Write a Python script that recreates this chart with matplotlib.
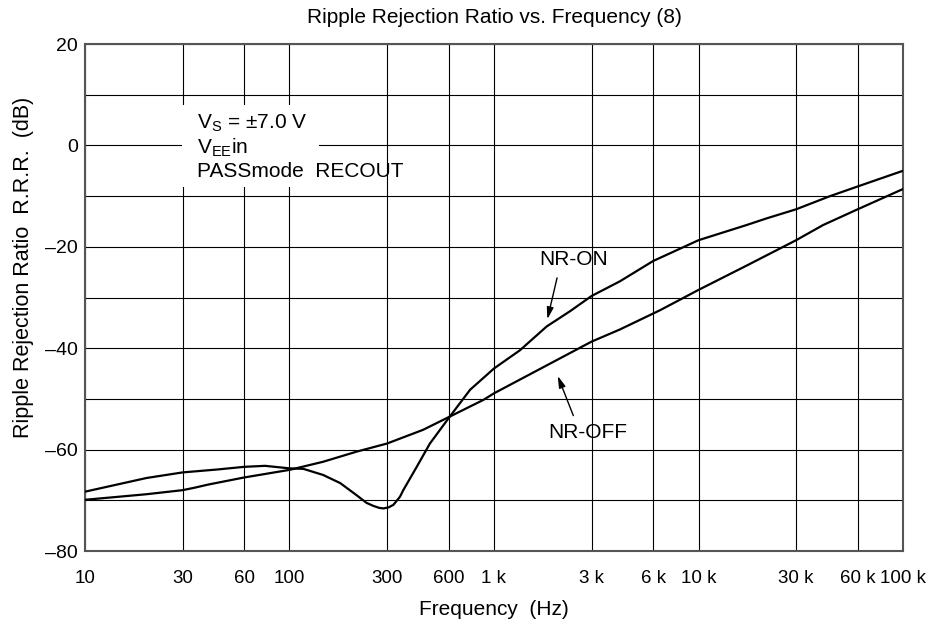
import matplotlib
matplotlib.use("Agg")
import matplotlib.pyplot as plt
from matplotlib.patches import Rectangle

plt.rcParams['font.family'] = ['Liberation Sans', 'DejaVu Sans']
plt.rcParams['mathtext.fontset'] = 'custom'
plt.rcParams['mathtext.rm'] = 'Liberation Sans'
plt.rcParams['mathtext.default'] = 'regular'

# NR-ON curve
freq_on = [10, 20, 30, 45, 60, 76, 100, 117, 146, 177, 213, 238, 257, 275, 288, 305, 322, 347, 360,
           419, 486, 600, 764, 1000, 1340, 1811, 2355, 3000, 4130, 6000, 10000,
           17200, 21500, 30000, 44000, 60000, 100000]
rrr_on = [-68.3, -65.6, -64.5, -63.9, -63.4, -63.2, -63.7, -63.8, -65.0, -66.6, -69.0, -70.5, -71.1, -71.5, -71.6, -71.4, -70.9, -69.3, -68.0,
          -63.4, -58.8, -53.8, -48.2, -44.0, -40.4, -35.7, -32.7, -29.7, -26.8, -22.8, -18.7,
          -15.7, -14.4, -12.6, -10.0, -8.1, -5.0]

# NR-OFF curve
freq_off = [10, 20, 30, 34.5, 40, 60, 100, 146, 213, 300, 450, 600, 887, 1000,
            1950, 3000, 4130, 6490, 10000, 17200, 30000, 40700, 60000, 100000]
rrr_off = [-69.9, -68.8, -68.0, -67.5, -66.9, -65.5, -64.0, -62.4, -60.4, -58.8, -56.1, -53.6, -50.2, -48.9,
           -42.7, -38.7, -36.3, -32.5, -28.5, -23.7, -18.7, -15.7, -12.6, -8.6]

xticks = [10, 30, 60, 100, 300, 600, 1e3, 3e3, 6e3, 1e4, 3e4, 6e4, 1e5]
xtick_labels = ['10', '30', '60', '100', '300', '600', '1 k', '3 k', '6 k', '10 k', '30 k', '60 k', '100 k']
yticks = list(range(-80, 21, 10))
ytick_labels = [('\u2013%d' % -v if v < 0 else '%d' % v) if v % 20 == 0 else '' for v in yticks]

fig = plt.figure(figsize=(9.44, 6.26), dpi=100)
ax = fig.add_axes([0.090, 0.1198, 0.8666, 0.8099])

ax.plot(freq_on, rrr_on, color='black', lw=1.6, zorder=3)
ax.plot(freq_off, rrr_off, color='black', lw=1.6, zorder=3)

ax.set_xscale('log')
ax.set_xlim(10, 1e5)
ax.set_ylim(-80, 20)
ax.set_xticks(xticks)
ax.set_xticklabels(xtick_labels, fontsize=13.5)
ax.minorticks_off()
ax.set_yticks(yticks)
ax.set_yticklabels(ytick_labels, fontsize=14)
ax.tick_params(axis='both', length=0)
ax.tick_params(axis='x', pad=14)
ax.tick_params(axis='y', pad=5)
ax.grid(True, color='black', lw=0.8)
ax.set_axisbelow(True)
for s in ax.spines.values():
    s.set_color('#555555')
    s.set_linewidth(1.5)

ax.set_title('Ripple Rejection Ratio vs. Frequency (8)', fontsize=15, pad=15)
ax.set_xlabel('Frequency  (Hz)', fontsize=15, labelpad=9)
ax.set_ylabel('Ripple Rejection Ratio  R.R.R.  (dB)', fontsize=15.5, labelpad=8, y=0.56)

# condition box
ax.add_patch(Rectangle((0.1186, 0.718), 0.168, 0.162, transform=ax.transAxes,
                       facecolor='white', edgecolor='none', zorder=2))
ax.text(0.1366, 0.797, 'V$_{S}$ = \u00b17.0 V\nV$_{EE}$in\nPASSmode  RECOUT',
        transform=ax.transAxes, fontsize=15, va='center', ha='left',
        linespacing=1.2, zorder=4)

# curve labels
ax.text(2460, -22.6, 'NR-ON', fontsize=15, ha='center', va='center')
ax.annotate('', xy=(1811, -34.8), xytext=(2049, -25.6),
            arrowprops=dict(arrowstyle='-|>,head_length=0.7,head_width=0.2', color='black', lw=1))
ax.text(2865, -56.6, 'NR-OFF', fontsize=15, ha='center', va='center')
ax.annotate('', xy=(2026, -44.95), xytext=(2471, -53.8),
            arrowprops=dict(arrowstyle='-|>,head_length=0.7,head_width=0.2', color='black', lw=1))

fig.savefig('out.png', dpi=100)
